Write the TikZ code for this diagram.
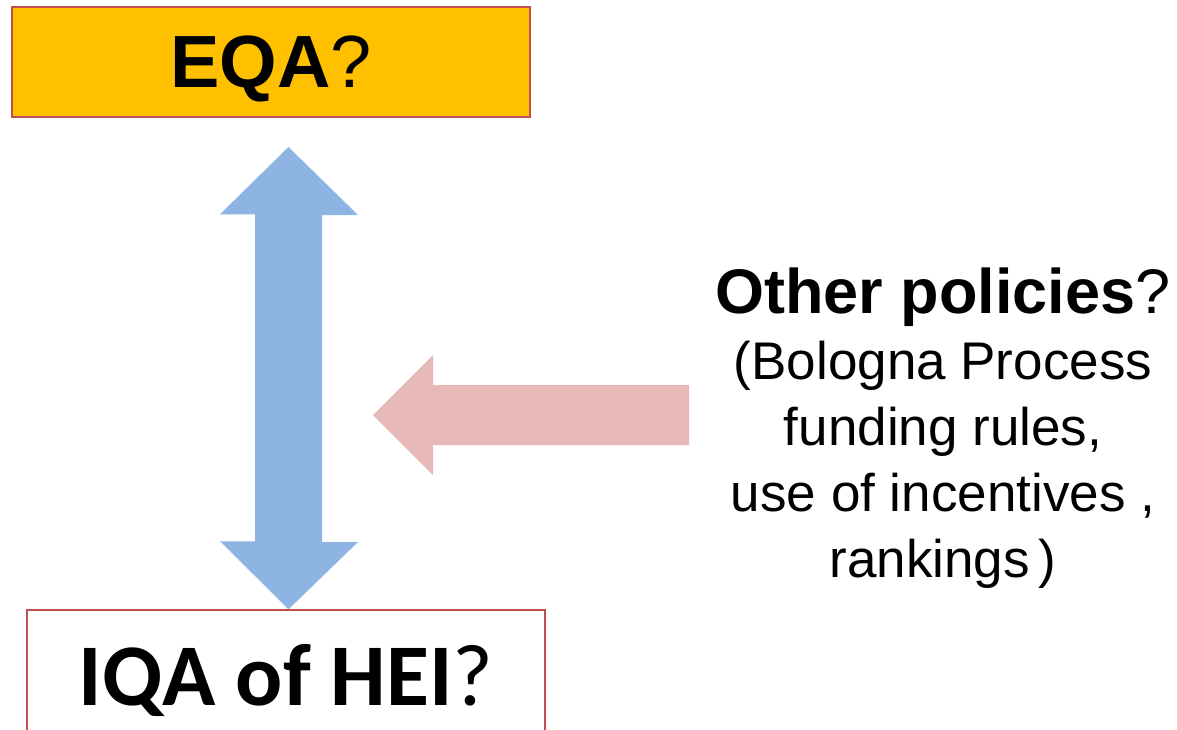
\documentclass[tikz,border=0pt]{standalone}
\usepackage{fontspec}
\setmainfont{Liberation Sans}
\newfontfamily\calibrifont{Carlito}
\usepackage{tikz}
\usetikzlibrary{calc,positioning}
\definecolor{EqaFill}{HTML}{FFC000}
\definecolor{BoxFrame}{HTML}{C0504D}
\definecolor{LinkBlue}{HTML}{8EB4E3}
\definecolor{PolPink}{HTML}{E6B9B8}

\begin{document}
\begin{tikzpicture}[x=1pt,y=-1pt]
  \tikzstyle{qabox}=[draw=BoxFrame, line width=1.5pt, inner sep=0pt,
               minimum width=518pt, text=black]
  \useasboundingbox (0,0) rectangle (1177,729);
  \clip (0,0) rectangle (1177,729);
  % external QA
  \node[qabox, fill=EqaFill, minimum height=110pt, text depth=0pt,
        font=\fontsize{74}{80}\selectfont] (eqa) at (271,62) {\textbf{EQA}?};
  % internal QA, cut by the page edge
  \node[qabox, fill=white, minimum height=140pt,
        font=\calibrifont\fontsize{88}{90}\selectfont] (iqa) at (286,680) {\textbf{IQA of HEI}?};
  % other policies
  \node[align=center, anchor=north, inner sep=0pt,
        font=\fontsize{53}{66}\selectfont] (pol) at (943,268)
    {{\fontsize{63}{66}\selectfont\textbf{Other policies}?}\\
     (Bologna Process\\ funding rules,\\ use of incentives ,\\ rankings\,)};
  % two-way link
  \coordinate (lnk) at (288.5,147);
  \fill[LinkBlue] (lnk) -- ++(69.5,68) -- ++(-36,0) -- ++(0,327) -- ++(36,0)
    -- (lnk |- iqa.north) -- ++(-68.5,-68) -- ++(35,0) -- ++(0,-327) -- ++(-35,0) -- cycle;
  % influence arrow
  \coordinate (inf) at (373,415);
  \fill[PolPink] (inf) -- ++(60,-60) -- ++(0,30) -- ++(256,0) -- ++(0,60)
    -- ++(-256,0) -- ++(0,30) -- cycle;
\end{tikzpicture}
\end{document}
